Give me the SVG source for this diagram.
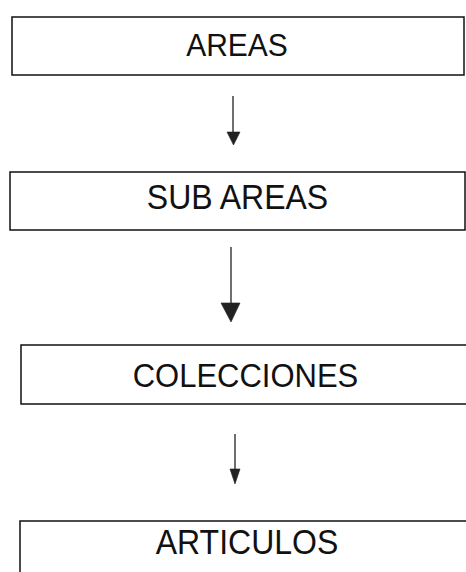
<svg xmlns="http://www.w3.org/2000/svg" width="466" height="572" viewBox="0 0 466 572">
<style>
.box{fill:#fff;stroke:#111;stroke-width:1.5}
.lbl{font-family:"Liberation Sans",Arial,sans-serif;fill:#111;text-anchor:middle}
.ln{stroke:#222;stroke-width:1.3;fill:none}
.hd{fill:#222;stroke:#222;stroke-width:0.6}
</style>
<rect width="466" height="572" fill="#fff"/>
<g id="areas">
<rect class="box" x="12" y="17" width="452" height="58"/>
<text class="lbl" x="237" y="56" font-size="30" transform="translate(0,56) scale(1,1.06) translate(0,-56)">AREAS</text>
</g>
<g id="sub-areas">
<rect class="box" x="10" y="172" width="455" height="58"/>
<text class="lbl" x="237.5" y="209" font-size="32" transform="translate(0,209) scale(1,1.08) translate(0,-209)">SUB AREAS</text>
</g>
<g id="colecciones">
<rect class="box" x="21" y="345" width="460" height="59"/>
<text class="lbl" x="245.5" y="387" font-size="31" transform="translate(0,387) scale(1,1.08) translate(0,-387)">COLECCIONES</text>
</g>
<g id="articulos">
<rect class="box" x="20" y="521" width="461" height="70"/>
<text class="lbl" x="247" y="554" font-size="32" transform="translate(0,554) scale(1,1.08) translate(0,-554)">ARTICULOS</text>
</g>
<g id="connectors">
<line class="ln" x1="233" y1="96" x2="233" y2="138"/>
<polygon class="hd" points="227,132 240,132 233.5,145"/>
<line class="ln" x1="231" y1="247" x2="231" y2="310"/>
<polygon class="hd" points="221,303 240,303 231,322"/>
<line class="ln" x1="235" y1="434" x2="235" y2="476"/>
<polygon class="hd" points="230,469 240,469 235,484"/>
</g>
</svg>
